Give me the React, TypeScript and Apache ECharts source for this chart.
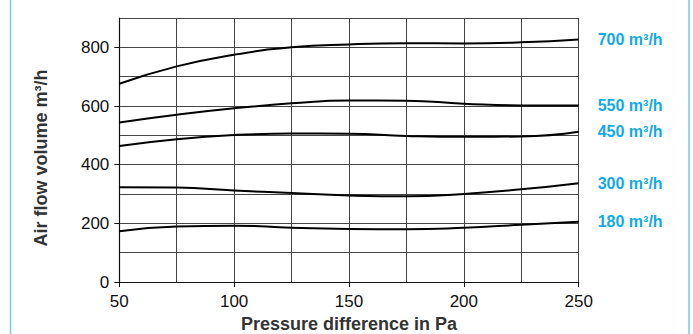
import React, { useEffect, useRef } from "react";
import * as echarts from "echarts";

const pressure = [50, 75, 100, 125, 150, 175, 200, 225, 250];
const seriesNames = ["700 m³/h", "550 m³/h", "450 m³/h", "300 m³/h", "180 m³/h"];
const flow700 = [676, 735, 775, 800, 810, 814, 813, 817, 827];
const flow550 = [544, 570, 592, 609, 619, 618, 608, 602, 602];
const flow450 = [464, 487, 501, 506, 505, 498, 495, 496, 512];
const flow300 = [323, 322, 312, 303, 295, 292, 300, 316, 337];
const flow180 = [173, 189, 192, 185, 181, 180, 185, 195, 205];
const xLabels = [50, 100, 150, 200, 250];
const yLabels = [0, 200, 400, 600, 800];

const allFlows = [flow700, flow550, flow450, flow300, flow180];

export default function App() {
  const ref = useRef<HTMLDivElement>(null);
  useEffect(() => {
    document.body.style.margin = "0";
    if (!ref.current) return;
    const chart = echarts.init(ref.current, null, { renderer: "svg" });
    const font = "'Liberation Sans', Arial, sans-serif";
    chart.setOption({
      animation: false,
      textStyle: { fontFamily: font },
      grid: {
        left: 119.3,
        right: 114.3,
        top: 18,
        bottom: 52,
        containLabel: false,
        outerBoundsMode: "none",
      },
      xAxis: [
        {
          type: "value",
          min: 50,
          max: 250,
          interval: 25,
          name: "Pressure difference in Pa",
          nameLocation: "middle",
          nameGap: 33,
          nameTextStyle: { fontSize: 18, fontWeight: "bold", color: "#333", fontFamily: font },
          axisLine: { show: true, lineStyle: { color: "#111", width: 1.2 } },
          axisTick: { show: false },
          axisLabel: {
            formatter: (v: number) => (xLabels.includes(v) ? String(v) : ""),
            fontSize: 17,
            color: "#111",
            margin: 11,
            fontFamily: font,
          },
          splitLine: { show: true, lineStyle: { color: "#444", width: 1 } },
        },
        {
          type: "value",
          position: "bottom",
          min: 50,
          max: 250,
          interval: 50,
          axisLine: { show: false },
          axisTick: { show: true, length: 5, lineStyle: { color: "#111" } },
          axisLabel: { show: false },
          splitLine: { show: false },
        },
      ],
      yAxis: [
        {
          type: "value",
          min: 0,
          max: 900,
          interval: 100,
          axisLine: { show: true, lineStyle: { color: "#111", width: 1.2 } },
          axisTick: { show: false },
          axisLabel: {
            formatter: (v: number) => (yLabels.includes(v) ? String(v) : ""),
            fontSize: 17,
            color: "#111",
            margin: 10,
            fontFamily: font,
          },
          splitLine: { show: true, lineStyle: { color: "#444", width: 1 } },
        },
        {
          type: "value",
          position: "left",
          min: 0,
          max: 900,
          interval: 100,
          axisLine: { show: false },
          axisTick: { show: true, length: 5, customValues: yLabels, lineStyle: { color: "#111" } },
          axisLabel: { show: false },
          splitLine: { show: false },
        },
      ],
      graphic: [
        { type: "line", shape: { x1: 10.5, y1: 0, x2: 10.5, y2: 334 }, style: { stroke: "#6fcdf2", lineWidth: 1.5 } },
        { type: "line", shape: { x1: 689, y1: 0, x2: 689, y2: 334 }, style: { stroke: "#6fcdf2", lineWidth: 1.5 } },
        {
          type: "text",
          x: 41,
          y: 158,
          rotation: Math.PI / 2,
          style: {
            text: "Air flow volume m³/h",
            fontSize: 18,
            fontWeight: "bold",
            fill: "#333",
            fontFamily: font,
            textAlign: "center",
            textVerticalAlign: "middle",
          },
        },
      ],
      series: allFlows.map((vals, i) => ({
        type: "line",
        name: seriesNames[i],
        data: pressure.map((p, j) => [p, vals[j]]),
        smooth: true,
        symbol: "none",
        lineStyle: { color: "#000", width: 2 },
        endLabel: {
          show: true,
          formatter: seriesNames[i],
          distance: 19,
          color: "#12a9e6",
          fontSize: 16,
          fontWeight: "bold",
          fontFamily: font,
        },
      })),
    });
    return () => chart.dispose();
  }, []);
  return <div ref={ref} style={{ width: 693, height: 334 }} />;
}
